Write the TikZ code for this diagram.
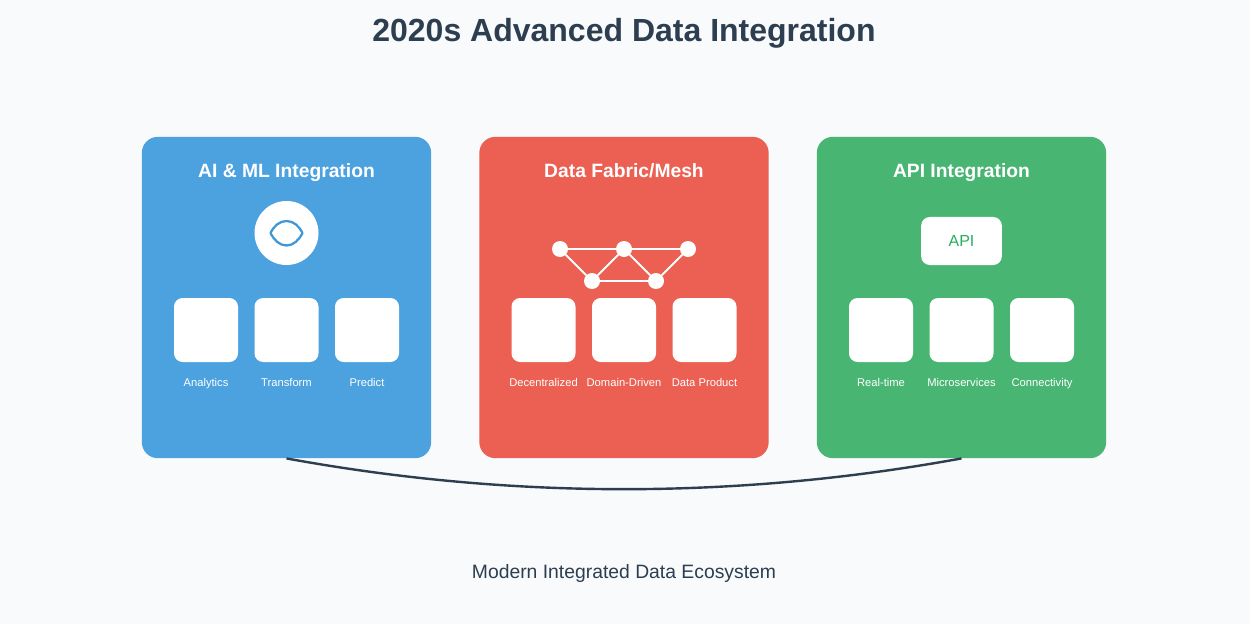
\documentclass[tikz,border=0pt]{standalone}
\usepackage{fontspec}
\setmainfont{Liberation Sans}
\definecolor{bgc}{HTML}{F8FAFC}
\definecolor{ink}{HTML}{2C3E50}
\definecolor{bluec}{HTML}{4CA1DF}
\definecolor{redc}{HTML}{EB6052}
\definecolor{greenc}{HTML}{48B672}
\definecolor{apigreen}{HTML}{27AE60}
\definecolor{eyeblue}{HTML}{3F97D6}
\tikzset{
  x=0.75pt,y=-0.75pt,
  card/.style={draw=none,minimum width=217pt,minimum height=241pt,rounded corners=12pt,inner sep=0pt},
  tile/.style={fill=white,draw=none,minimum width=48pt,minimum height=48pt,rounded corners=6.5pt,inner sep=0pt},
  cardtitle/.style={text=white,anchor=base,font=\bfseries\fontsize{14.45pt}{17pt}\selectfont,inner sep=0pt},
  caption/.style={text=white,anchor=base,font=\fontsize{8.4pt}{10pt}\selectfont,inner sep=0pt},
  dot/.style={circle,fill=white,draw=none,minimum size=12pt,inner sep=0pt},
  mesh/.style={draw=white,line width=1.4pt},
}
\begin{document}
\begin{tikzpicture}
\useasboundingbox[fill=bgc] (0,0) rectangle (1250,624);
\node[text=ink,anchor=base,font=\bfseries\fontsize{24pt}{28pt}\selectfont,inner sep=0pt] (title) at (624,42) {2020s Advanced Data Integration};
% cards
\node[card,fill=bluec] (c1) at (286.5,297.5) {};
\node[card,fill=redc] (c2) at (624,297.5) {};
\node[card,fill=greenc] (c3) at (961.5,297.5) {};
\node[cardtitle] (t1) at (286.5,177.8) {AI \& ML Integration};
\node[cardtitle] (t2) at (624,177.8) {Data Fabric/Mesh};
\node[cardtitle] (t3) at (961.5,177.8) {API Integration};
% eye icon
\node[circle,fill=white,draw=none,minimum size=48pt,inner sep=0pt] (ai) at (286.5,233) {};
\draw[eyeblue,line width=1.7pt,line join=round] (270.5,233) .. controls (274,226) and (279.5,221) .. (286.5,221) .. controls (293.5,221) and (299,226) .. (302.5,233) .. controls (299,240) and (293.5,245.5) .. (286.5,245.5) .. controls (279.5,245.5) and (274,240) .. (270.5,233) -- cycle;
% mesh
\node[dot] (m1) at (560,249) {};
\node[dot] (m2) at (624,249) {};
\node[dot] (m3) at (688,249) {};
\node[dot] (m4) at (592,281) {};
\node[dot] (m5) at (656,281) {};
\draw[mesh] (m1) -- (m2);
\draw[mesh] (m2) -- (m3);
\draw[mesh] (m1) -- (m4);
\draw[mesh] (m4) -- (m2);
\draw[mesh] (m2) -- (m5);
\draw[mesh] (m5) -- (m3);
\draw[mesh] (m4) -- (m5);
% api
\node[fill=white,draw=none,minimum width=60.5pt,minimum height=36pt,rounded corners=6.5pt,inner sep=0pt] (api) at (961.5,241) {};
\node[text=apigreen,anchor=base,font=\fontsize{12pt}{14pt}\selectfont,inner sep=0pt] (apit) at (961.5,247) {API};
% tiles
\node[tile] (a1) at (206,330) {};
\node[tile] (a2) at (286.5,330) {};
\node[tile] (a3) at (367,330) {};
\node[tile] (b1) at (543.5,330) {};
\node[tile] (b2) at (624,330) {};
\node[tile] (b3) at (704.5,330) {};
\node[tile] (d1) at (881,330) {};
\node[tile] (d2) at (961.5,330) {};
\node[tile] (d3) at (1042,330) {};
% captions
\node[caption] (la1) at (206,386) {Analytics};
\node[caption] (la2) at (286.5,386) {Transform};
\node[caption] (la3) at (367,386) {Predict};
\node[caption] (lb1) at (543.5,386) {Decentralized};
\node[caption] (lb2) at (624,386) {Domain-Driven};
\node[caption] (lb3) at (704.5,386) {Data Product};
\node[caption] (ld1) at (881,386) {Real-time};
\node[caption] (ld2) at (961.5,386) {Microservices};
\node[caption] (ld3) at (1042,386) {Connectivity};
% connector
\draw[ink,line width=1.8pt] (c1.south) .. controls +(225,41) and +(-225,41) .. (c3.south);
\node[text=ink,anchor=base,font=\fontsize{14.5pt}{17pt}\selectfont,inner sep=0pt] (foot) at (624,578.5) {Modern Integrated Data Ecosystem};
\end{tikzpicture}
\end{document}
